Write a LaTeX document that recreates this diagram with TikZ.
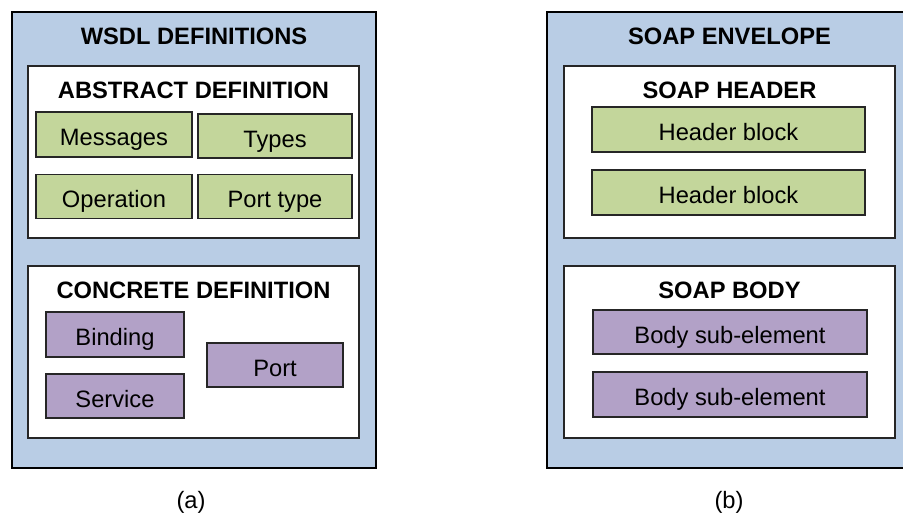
\documentclass[tikz,border=0pt]{standalone}
\usepackage{fontspec}
\setmainfont{Liberation Sans}
\definecolor{frameblue}{HTML}{B9CDE5}
\definecolor{leafgreen}{HTML}{C3D69B}
\definecolor{leafpurple}{HTML}{B2A1C7}
\tikzset{
  outerbox/.style={draw=black, line width=2.4pt, fill=frameblue, inner sep=0pt, outer sep=0pt},
  groupbox/.style={draw=black!85, line width=1.8pt, fill=white, inner sep=0pt, outer sep=0pt},
  leafbox/.style={draw=black!85, line width=1.8pt, inner sep=0pt, outer sep=0pt,
    text height=22pt, text depth=0pt, font=\fontsize{23.7}{28}\selectfont},
  greenbox/.style={leafbox, fill=leafgreen},
  purplebox/.style={leafbox, fill=leafpurple},
  title/.style={anchor=base, inner sep=0pt, font=\fontsize{23.7}{28}\selectfont\bfseries},
  caption/.style={anchor=base, inner sep=0pt, font=\fontsize{23.7}{28}\selectfont}
}
\begin{document}
\begin{tikzpicture}[x=1pt, y=-1pt]
  \path[use as bounding box, clip] (0,0) rectangle (903,514);

  % ---------- (a) WSDL definitions ----------
  \node[outerbox, minimum width=364pt, minimum height=456pt] (wsdl) at (194,240) {};
  \node[title] (wsdltitle) at (194,45) {WSDL DEFINITIONS};

  \node[groupbox, minimum width=331pt, minimum height=172pt] (abstract) at (193.5,152) {};
  \node[title] (abstracttitle) at (193.5,98) {ABSTRACT DEFINITION};
  \node[greenbox, minimum width=156pt, minimum height=45pt] (messages) at (114,134.5) {Messages};
  \node[greenbox, minimum width=154pt, minimum height=44pt] (types) at (275,136) {Types};
  \node[greenbox, minimum width=156pt, minimum height=44pt] (operation) at (114,196.5) {Operation};
  \node[greenbox, minimum width=154pt, minimum height=44pt] (porttype) at (275,196.5) {Port type};

  \node[groupbox, minimum width=331pt, minimum height=172pt] (concrete) at (193.5,352) {};
  \node[title] (concretetitle) at (193.5,298) {CONCRETE DEFINITION};
  \node[purplebox, minimum width=138pt, minimum height=45pt] (binding) at (115,334.5) {Binding};
  \node[purplebox, minimum width=138pt, minimum height=44pt] (service) at (115,396) {Service};
  \node[purplebox, minimum width=136pt, minimum height=44pt] (port) at (275,365) {Port};

  \node[caption] (capa) at (191,508) {(a)};

  % ---------- (b) SOAP envelope ----------
  \node[outerbox, minimum width=365pt, minimum height=456pt] (envelope) at (729.5,240) {};
  \node[title] (envelopetitle) at (729.5,45) {SOAP ENVELOPE};

  \node[groupbox, minimum width=331pt, minimum height=172pt] (header) at (729.5,152) {};
  \node[title] (headertitle) at (729.5,98) {SOAP HEADER};
  \node[greenbox, minimum width=273pt, minimum height=45pt] (hblockA) at (728.5,129.5) {Header block};
  \node[greenbox, minimum width=273pt, minimum height=45pt] (hblockB) at (728.5,192.5) {Header block};

  \node[groupbox, minimum width=331pt, minimum height=172pt] (body) at (729.5,352) {};
  \node[title] (bodytitle) at (729.5,298) {SOAP BODY};
  \node[purplebox, minimum width=274pt, minimum height=44pt] (bsubA) at (730,332) {Body sub-element};
  \node[purplebox, minimum width=274pt, minimum height=45pt] (bsubB) at (730,394.5) {Body sub-element};

  \node[caption] (capb) at (729,508) {(b)};
\end{tikzpicture}
\end{document}
